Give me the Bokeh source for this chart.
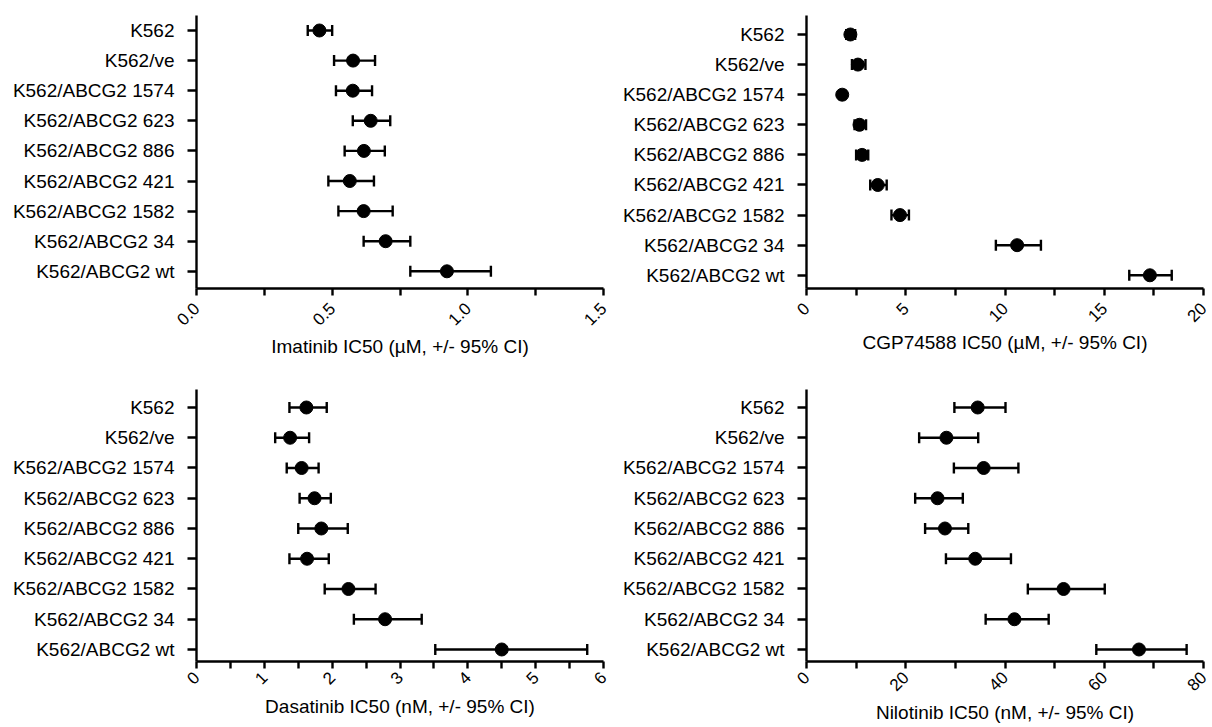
from math import pi
from bokeh.plotting import figure
from bokeh.layouts import column, row
from bokeh.models import Range1d, FixedTicker, ColumnDataSource
from bokeh.embed import file_html
from bokeh.resources import INLINE

cell_lines = ["K562", "K562/ve", "K562/ABCG2 1574", "K562/ABCG2 623", "K562/ABCG2 886",
              "K562/ABCG2 421", "K562/ABCG2 1582", "K562/ABCG2 34", "K562/ABCG2 wt"]

imatinib_ic50 = [0.453, 0.577, 0.576, 0.642, 0.617, 0.565, 0.616, 0.697, 0.923]
imatinib_lo = [0.41, 0.507, 0.514, 0.576, 0.546, 0.486, 0.523, 0.616, 0.788]
imatinib_hi = [0.50, 0.658, 0.647, 0.714, 0.694, 0.654, 0.723, 0.788, 1.085]

cgp_ic50 = [2.21, 2.59, 1.80, 2.67, 2.80, 3.59, 4.71, 10.61, 17.30]
cgp_lo = [2.0, 2.29, 1.65, 2.42, 2.5, 3.21, 4.28, 9.54, 16.26]
cgp_hi = [2.45, 2.97, 1.95, 3.0, 3.11, 4.04, 5.16, 11.81, 18.40]

dasatinib_ic50 = [1.62, 1.38, 1.55, 1.74, 1.84, 1.63, 2.24, 2.78, 4.50]
dasatinib_lo = [1.37, 1.16, 1.33, 1.52, 1.50, 1.37, 1.89, 2.32, 3.52]
dasatinib_hi = [1.92, 1.66, 1.80, 1.98, 2.23, 1.95, 2.64, 3.32, 5.76]

nilotinib_ic50 = [34.5, 28.2, 35.7, 26.4, 27.9, 34.0, 51.8, 41.9, 67.0]
nilotinib_lo = [29.8, 22.7, 29.7, 21.9, 23.9, 28.1, 44.6, 36.1, 58.4]
nilotinib_hi = [40.1, 34.6, 42.7, 31.5, 32.6, 41.2, 60.1, 48.8, 76.6]

imatinib_ticks = [0, 0.5, 1.0, 1.5]
imatinib_tick_labels = ["0.0", "0.5", "1.0", "1.5"]
cgp_ticks = [0, 5, 10, 15, 20]
cgp_tick_labels = ["0", "5", "10", "15", "20"]
dasatinib_ticks = [0, 1, 2, 3, 4, 5, 6]
dasatinib_tick_labels = ["0", "1", "2", "3", "4", "5", "6"]
nilotinib_ticks = [0, 20, 40, 60, 80]
nilotinib_tick_labels = ["0", "20", "40", "60", "80"]

FONT = "Liberation Sans"
FS = "19px"
TICK_FS = "17px"
LW = 2.4


def make_panel(vals, lo, hi, ticks, labels, minor, xlabel, width, height,
               mbl, mbr, mbt, mbb, ystart, yend, lab_standoff, title_standoff):
    n = len(cell_lines)
    ypos = list(range(n))
    src = ColumnDataSource(dict(y=ypos, x=vals, lo=lo, hi=hi))
    p = figure(width=width, height=height, output_backend="svg", toolbar_location=None,
               x_range=Range1d(ticks[0], ticks[-1]), y_range=Range1d(ystart, yend),
               min_border_left=mbl, min_border_right=mbr, min_border_top=mbt,
               min_border_bottom=mbb)
    p.outline_line_color = None
    p.xgrid.visible = False
    p.ygrid.visible = False

    p.segment(x0="lo", y0="y", x1="hi", y1="y", source=src, line_color="black", line_width=LW)
    p.scatter(x="lo", y="y", source=src, marker="dash", angle=pi / 2, size=11,
              line_color="black", line_width=LW)
    p.scatter(x="hi", y="y", source=src, marker="dash", angle=pi / 2, size=11,
              line_color="black", line_width=LW)
    p.scatter(x="x", y="y", source=src, marker="circle", size=13,
              fill_color="black", line_color="black")

    xa = p.xaxis[0]
    xa.ticker = FixedTicker(ticks=ticks, minor_ticks=minor)
    xa.major_label_overrides = {t: l for t, l in zip(ticks, labels)}
    xa.major_label_orientation = pi / 4
    xa.major_label_text_font = FONT
    xa.major_label_text_font_size = TICK_FS
    xa.major_label_text_color = "black"
    xa.major_label_standoff = lab_standoff
    xa.axis_label = xlabel
    xa.axis_label_text_font = FONT
    xa.axis_label_text_font_size = FS
    xa.axis_label_text_font_style = "normal"
    xa.axis_label_text_color = "black"
    xa.axis_label_standoff = title_standoff
    xa.axis_line_width = LW
    xa.major_tick_line_width = LW
    xa.minor_tick_line_width = LW
    xa.major_tick_out = 7
    xa.major_tick_in = 0
    xa.minor_tick_out = 7
    xa.minor_tick_in = 0

    ya = p.yaxis[0]
    ya.ticker = FixedTicker(ticks=ypos, minor_ticks=[])
    ya.major_label_overrides = {i: c for i, c in enumerate(cell_lines)}
    ya.major_label_text_font = FONT
    ya.major_label_text_font_size = FS
    ya.major_label_text_color = "black"
    ya.major_label_standoff = 13
    ya.axis_line_width = LW
    ya.major_tick_line_width = LW
    ya.major_tick_out = 9
    ya.major_tick_in = 0
    ya.minor_tick_out = 0
    ya.minor_tick_in = 0
    return p


p1 = make_panel(imatinib_ic50, imatinib_lo, imatinib_hi, imatinib_ticks, imatinib_tick_labels,
                [0.25, 0.75, 1.25], "Imatinib IC50 (µM, +/- 95% CI)",
                610, 365, 196, 7, 15, 77, 8.571, -0.498, 10, 2)
p2 = make_panel(cgp_ic50, cgp_lo, cgp_hi, cgp_ticks, cgp_tick_labels,
                [2.5, 7.5, 12.5, 17.5], "CGP74588 IC50 (µM, +/- 95% CI)",
                602, 365, 196, 9, 15, 77, 8.439, -0.631, 10, 2)
p3 = make_panel(dasatinib_ic50, dasatinib_lo, dasatinib_hi, dasatinib_ticks, dasatinib_tick_labels,
                [0.5, 1.5, 2.5, 3.5, 4.5, 5.5], "Dasatinib IC50 (nM, +/- 95% CI)",
                610, 362, 196, 7, 24, 66, 8.397, -0.595, 6, 3)
p4 = make_panel(nilotinib_ic50, nilotinib_lo, nilotinib_hi, nilotinib_ticks, nilotinib_tick_labels,
                [10, 30, 50, 70], "Nilotinib IC50 (nM, +/- 95% CI)",
                602, 362, 196, 9, 24, 66, 8.397, -0.595, 6, 3)

layout = column(row(p1, p2), row(p3, p4))
open("out.html", "w").write(file_html(layout, INLINE))
